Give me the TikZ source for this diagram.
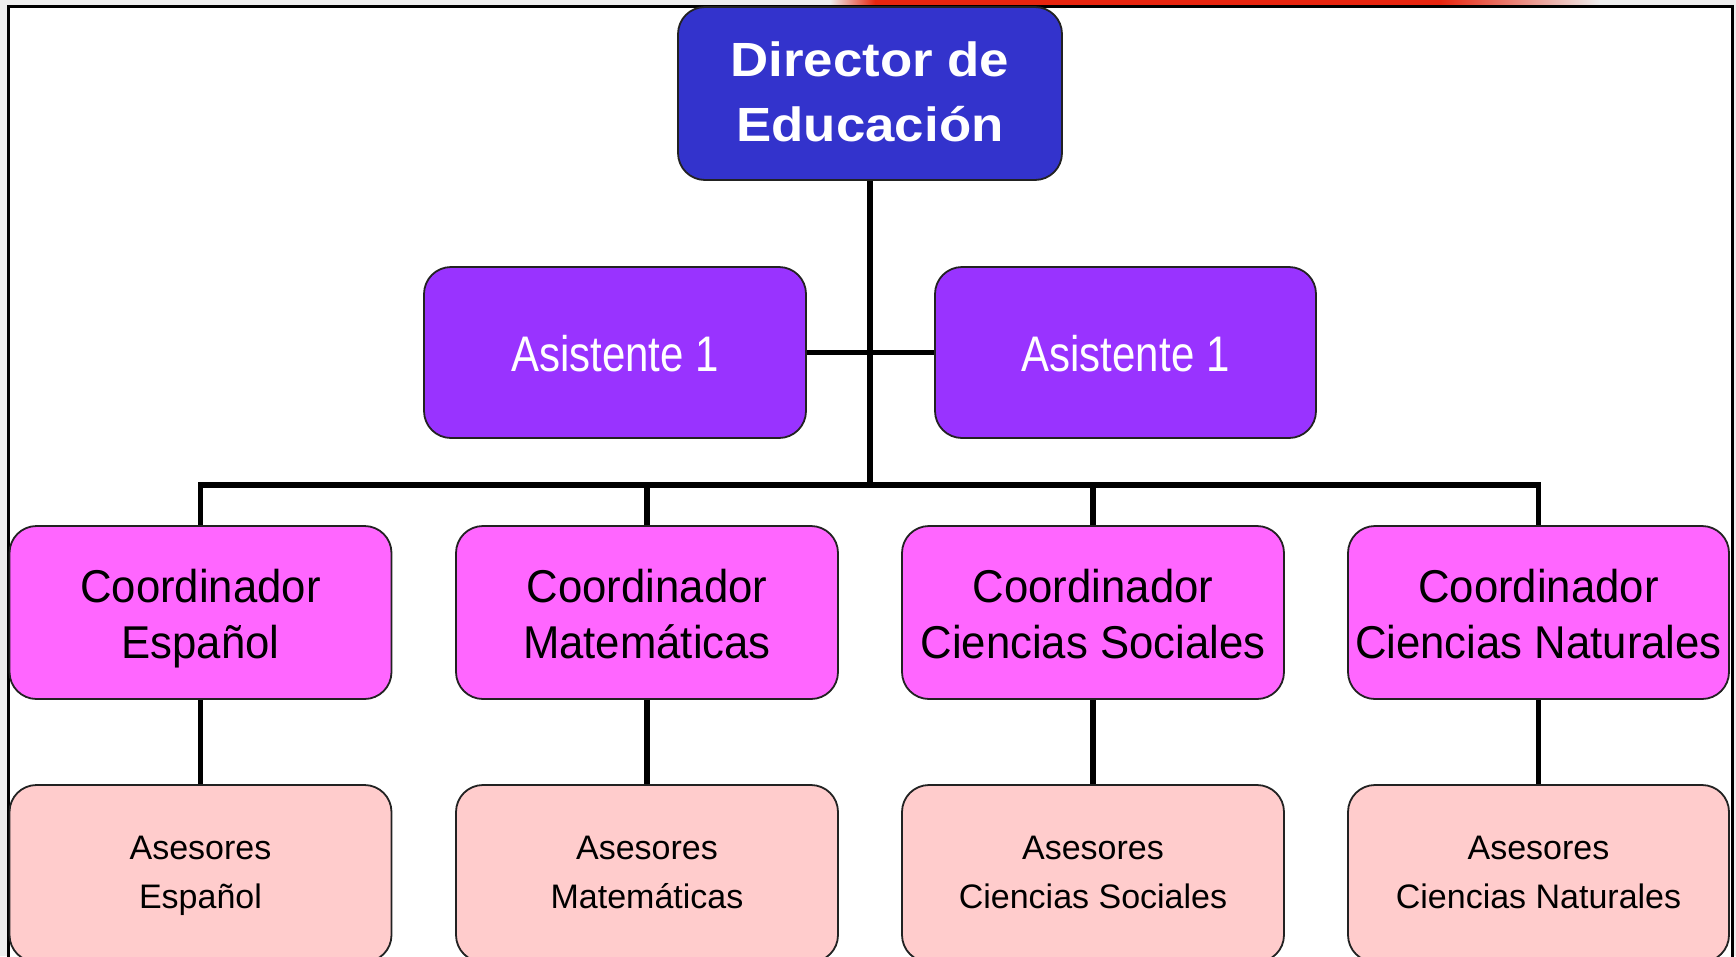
\documentclass[tikz,border=0pt]{standalone}
\usepackage{fontspec}
\setmainfont{Liberation Sans}
\newfontfamily\dirfont[FakeStretch=1.1]{Liberation Sans}
\newfontfamily\asisfont[FakeStretch=0.84]{Liberation Sans}
\newfontfamily\coordfont[FakeStretch=0.95]{Liberation Sans}
\newfontfamily\asesfont{Liberation Sans}
\newcommand{\mytop}[1]{\rule{0pt}{#1}}
\newcommand{\mybot}[1]{\rule[-#1]{0pt}{#1}}
\definecolor{dirblue}{HTML}{3333CC}
\definecolor{asispurple}{HTML}{9933FF}
\definecolor{coordpink}{HTML}{FF66FF}
\definecolor{asespink}{HTML}{FFCCCC}
\definecolor{bggray}{HTML}{EEEEEE}
\definecolor{stripred}{HTML}{E8250F}
\definecolor{boxline}{HTML}{222222}
\tikzset{
  orgbox/.style={draw=boxline, line width=1.8pt, rounded corners=27pt, inner sep=0pt, align=center},
  dirbox/.style={orgbox, fill=dirblue, text=white, minimum width=384pt, minimum height=173pt,
    font=\dirfont\bfseries\fontsize{48}{65}\selectfont},
  asisbox/.style={orgbox, fill=asispurple, text=white, minimum width=382pt, minimum height=171pt,
    font=\asisfont\fontsize{50}{60}\selectfont},
  coordbox/.style={orgbox, fill=coordpink, text=black, minimum width=382pt, minimum height=173pt,
    font=\coordfont\fontsize{46}{56}\selectfont},
  asesbox/.style={orgbox, fill=asespink, text=black, minimum width=382pt, minimum height=177pt,
    font=\asesfont\fontsize{34}{49}\selectfont},
  conn/.style={draw=black, line width=5.2pt},
}
\begin{document}
\begin{tikzpicture}[x=1pt,y=-1pt]
\useasboundingbox (0,0) rectangle (1736,956);
\clip (0,0) rectangle (1736,956);
% background and frame
\fill[bggray] (0,0) rectangle (1736,956);
\shade[left color=bggray, right color=stripred] (830,0) rectangle (875,6);
\fill[stripred] (875,0) rectangle (1440,6);
\shade[left color=stripred, right color=bggray] (1440,0) rectangle (1600,6);
\draw[fill=white, line width=3pt] (8,6) rectangle (1732,975);

% nodes
\node[dirbox] (dir) at (870,93.5) {\mytop{45pt}Director de\\Educación\mybot{13.6pt}};
\node[asisbox] (a1) at (615,352.5) {\mytop{42pt}Asistente 1\mybot{3.6pt}};
\node[asisbox, minimum width=381pt] (a2) at (1125.5,352.5) {\mytop{42pt}Asistente 1\mybot{3.6pt}};

\node[coordbox] (c1) at (200.5,612.5) {\mytop{47pt}Coordinador\\Español\mybot{12pt}};
\node[coordbox] (c2) at (647,612.5) {\mytop{47pt}Coordinador\\Matemáticas\mybot{12pt}};
\node[coordbox] (c3) at (1093,612.5) {\mytop{47pt}Coordinador\\Ciencias Sociales\mybot{12pt}};
\node[coordbox, minimum width=381pt] (c4) at (1538.5,612.5) {\mytop{47pt}Coordinador\\Ciencias Naturales\mybot{12pt}};

\node[asesbox] (s1) at (200.5,873.5) {\mytop{30pt}Asesores\\Español\mybot{9.4pt}};
\node[asesbox] (s2) at (647,873.5) {\mytop{30pt}Asesores\\Matemáticas\mybot{9.4pt}};
\node[asesbox] (s3) at (1093,873.5) {\mytop{30pt}Asesores\\Ciencias Sociales\mybot{9.4pt}};
\node[asesbox, minimum width=381pt] (s4) at (1538.5,873.5) {\mytop{30pt}Asesores\\Ciencias Naturales\mybot{9.4pt}};

% connectors
\coordinate (bus) at (870,485);
\coordinate (busL) at (200.5,485);
\coordinate (busR) at (1538.5,485);
\draw[conn] (dir.south) -- (bus);
\draw[conn, line cap=rect] (busL) -- (busR);
\draw[conn] (a1.east) -- (a2.west);
\draw[conn] (busL) -- (c1.north);
\draw[conn] (c2.north |- bus) -- (c2.north);
\draw[conn] (c3.north |- bus) -- (c3.north);
\draw[conn] (busR) -- (c4.north);
\draw[conn] (c1.south) -- (s1.north);
\draw[conn] (c2.south) -- (s2.north);
\draw[conn] (c3.south) -- (s3.north);
\draw[conn] (c4.south) -- (s4.north);
\end{tikzpicture}
\end{document}
